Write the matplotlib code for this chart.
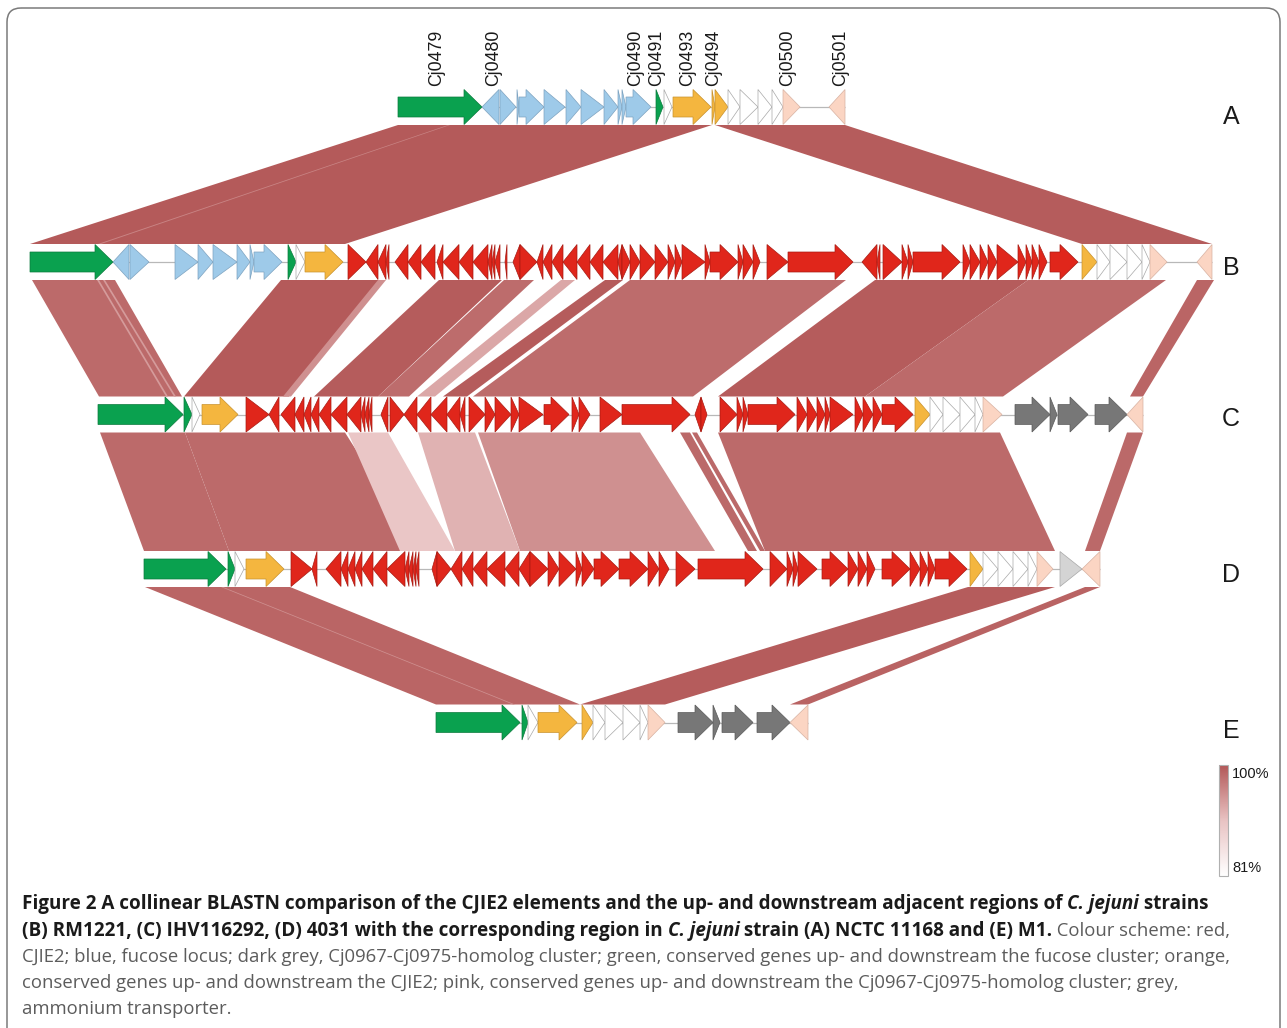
import matplotlib
matplotlib.use('Agg')
import matplotlib.pyplot as plt
from matplotlib.patches import Polygon, FancyBboxPatch, Rectangle
from matplotlib.colors import LinearSegmentedColormap
import numpy as np

# ---------------- data ----------------
# genes: (start, end, strand, category)  g=green b=blue y=orange r=red w=white p=pink k=dark grey l=light grey
track_A = [(398,482,1,'g'),(482,499,-1,'b'),(500,516,1,'b'),(517,519,1,'b'),(519,544,1,'b'),(544,565,1,'b'),
           (566,581,1,'b'),(581,604,1,'b'),(604,618,1,'b'),(618,622,1,'b'),(622,626,1,'b'),(626,651,1,'b'),
           (656,663,1,'g'),(664,672,1,'w'),(673,711,1,'y'),(712,715,1,'y'),(715,728,1,'y'),(728,740,1,'w'),
           (740,758,1,'w'),(758,772,1,'w'),(772,783,1,'w'),(783,800,1,'p'),(829,845,-1,'p')]
track_B = [(30,113,1,'g'),(113,129,-1,'b'),(130,149,1,'b'),(175,198,1,'b'),(198,213,1,'b'),(213,237,1,'b'),
           (237,250,1,'b'),(250,254,1,'b'),(254,282,1,'b'),(288,296,1,'g'),(296,305,1,'w'),(305,343,1,'y'),
           (348,366,1,'r'),(366,378,-1,'r'),(378,386,-1,'r'),(386,389,-1,'r'),(395,408,-1,'r'),(408,421,-1,'r'),
           (421,435,-1,'r'),(437,443,-1,'r'),(443,459,-1,'r'),(459,473,-1,'r'),(473,488,-1,'r'),(488,492,-1,'r'),
           (492,495,-1,'r'),(495,500,-1,'r'),(505,507,-1,'r'),(513,520,-1,'r'),(520,537,1,'r'),(537,543,-1,'r'),
           (543,552,-1,'r'),(552,563,-1,'r'),(563,577,-1,'r'),(577,590,-1,'r'),(590,603,-1,'r'),(603,618,-1,'r'),
           (618,622,-1,'r'),(622,630,1,'r'),(630,640,1,'r'),(640,655,1,'r'),(655,668,1,'r'),(668,675,1,'r'),
           (675,682,1,'r'),(682,705,1,'r'),(705,710,1,'r'),(710,738,1,'r'),(738,743,1,'r'),(743,753,1,'r'),
           (753,760,1,'r'),(767,788,1,'r'),(788,853,1,'r'),(862,877,-1,'r'),(877,880,-1,'r'),(883,902,1,'r'),
           (902,908,1,'r'),(908,913,1,'r'),(913,960,1,'r'),(963,970,1,'r'),(970,980,1,'r'),(980,988,1,'r'),
           (988,997,1,'r'),(997,1018,1,'r'),(1018,1026,1,'r'),(1026,1032,1,'r'),(1032,1039,1,'r'),(1039,1047,1,'r'),
           (1050,1078,1,'r'),(1082,1097,1,'y'),(1097,1110,1,'w'),(1110,1127,1,'w'),(1127,1142,1,'w'),
           (1142,1150,1,'w'),(1150,1167,1,'p'),(1197,1212,-1,'p')]
track_C = [(98,183,1,'g'),(184,192,1,'g'),(192,200,1,'w'),(202,238,1,'y'),(246,269,1,'r'),(269,279,-1,'r'),
           (281,295,-1,'r'),(295,304,-1,'r'),(304,311,-1,'r'),(311,319,-1,'r'),(319,331,-1,'r'),(331,347,-1,'r'),
           (347,361,-1,'r'),(361,365,-1,'r'),(365,369,-1,'r'),(369,372,-1,'r'),(381,388,-1,'r'),(390,404,1,'r'),
           (404,417,-1,'r'),(417,431,-1,'r'),(431,447,-1,'r'),(447,460,-1,'r'),(460,465,-1,'r'),(469,485,1,'r'),
           (485,495,1,'r'),(495,511,1,'r'),(511,519,1,'r'),(519,543,1,'r'),(544,569,1,'r'),(572,579,1,'r'),
           (579,590,1,'r'),(600,622,1,'r'),(622,690,1,'r'),(695,701,-1,'r'),(701,707,1,'r'),(720,737,1,'r'),
           (737,743,1,'r'),(743,748,1,'r'),(748,795,1,'r'),(797,807,1,'r'),(807,817,1,'r'),(817,825,1,'r'),
           (825,830,1,'r'),(830,853,1,'r'),(855,863,1,'r'),(863,873,1,'r'),(873,882,1,'r'),(882,913,1,'r'),
           (915,930,1,'y'),(930,943,1,'w'),(943,960,1,'w'),(960,975,1,'w'),(975,983,1,'w'),(983,1002,1,'p'),
           (1015,1050,1,'k'),(1050,1057,1,'k'),(1058,1088,1,'k'),(1095,1127,1,'k'),(1127,1143,-1,'p')]
track_D = [(144,226,1,'g'),(228,235,1,'g'),(235,244,1,'w'),(246,284,1,'y'),(291,312,1,'r'),(312,317,-1,'r'),
           (326,341,-1,'r'),(341,348,-1,'r'),(348,355,-1,'r'),(355,362,-1,'r'),(362,373,-1,'r'),(373,387,-1,'r'),
           (387,405,-1,'r'),(405,409,-1,'r'),(409,413,-1,'r'),(413,416,-1,'r'),(416,419,-1,'r'),(432,437,-1,'r'),
           (437,451,1,'r'),(451,462,-1,'r'),(462,473,-1,'r'),(473,487,-1,'r'),(487,505,-1,'r'),(505,519,-1,'r'),
           (519,530,-1,'r'),(530,548,1,'r'),(548,559,1,'r'),(559,576,1,'r'),(576,582,1,'r'),(582,594,1,'r'),
           (594,619,1,'r'),(619,648,1,'r'),(648,659,1,'r'),(659,669,1,'r'),(676,695,1,'r'),(698,763,1,'r'),
           (770,787,1,'r'),(787,793,1,'r'),(793,798,1,'r'),(798,817,1,'r'),(822,848,1,'r'),(848,858,1,'r'),
           (858,867,1,'r'),(867,875,1,'r'),(882,910,1,'r'),(910,920,1,'r'),(920,928,1,'r'),(928,935,1,'r'),
           (935,967,1,'r'),(970,983,1,'y'),(983,998,1,'w'),(998,1013,1,'w'),(1013,1028,1,'w'),(1028,1037,1,'w'),
           (1037,1053,1,'p'),(1060,1082,1,'l'),(1082,1100,-1,'p')]
track_E = [(436,520,1,'g'),(522,528,1,'g'),(528,538,1,'w'),(538,577,1,'y'),(582,593,1,'y'),(593,605,1,'w'),
           (605,623,1,'w'),(623,640,1,'w'),(640,648,1,'w'),(648,665,1,'p'),(678,713,1,'k'),(713,720,1,'k'),
           (722,753,1,'k'),(757,790,1,'k'),(790,808,-1,'p')]

track_names = ['A', 'B', 'C', 'D', 'E']
gene_labels = ['Cj0479','Cj0480','Cj0490','Cj0491','Cj0493','Cj0494','Cj0500','Cj0501']
gene_label_pos = [437, 494, 636, 657, 688, 714, 788, 841]

# BLASTN hits: (upper_start, upper_end, lower_start, lower_end, identity %)
hits_AB = [(398,712,30,345,99.8),(715,845,1082,1212,99.6),(448,450,98,101,96)]
hits_BC = [(32,115,99,182,98.3),(281,384,184,289,99.8),(378,386,283,291,95),(439,502,314,378,99.6),
           (504,534,378,409,98.2),(561,575,417,435,93),(605,623,443,467,99.6),(630,846,473,693,98.2),
           (875,1028,718,865,99.6),(1028,1166,865,1003,98.3),(1197,1214,1130,1143,98.8),
           (97,99,166,168,94),(103,105,174,176,94)]
hits_CD = [(100,185,144,229,98.3),(185,345,229,420,98.3),(348,388,400,455,90),(418,475,455,520,92),
           (478,640,520,715,95),(680,690,748,757,98.5),(692,697,760,765,98.5),(718,1000,765,1055,98.3),
           (1127,1143,1085,1100,98.5)]
hits_DE = [(145,290,436,580,98.8),(221,223,513,515,95),(968,1055,580,665,99.6),(1085,1100,790,808,99)]

caption_lines = [
    [("Figure 2 A collinear BLASTN comparison of the CJIE2 elements and the up- and downstream adjacent regions of ", 'bold', 'normal'),
     ("C. jejuni", 'bold', 'italic'), (" strains", 'bold', 'normal')],
    [("(B) RM1221, (C) IHV116292, (D) 4031 with the corresponding region in ", 'bold', 'normal'),
     ("C. jejuni", 'bold', 'italic'), (" strain (A) NCTC 11168 and (E) M1.", 'bold', 'normal'),
     (" Colour scheme: red,", 'normal', 'normal')],
    [("CJIE2; blue, fucose locus; dark grey, Cj0967-Cj0975-homolog cluster; green, conserved genes up- and downstream the fucose cluster; orange,", 'normal', 'normal')],
    [("conserved genes up- and downstream the CJIE2; pink, conserved genes up- and downstream the Cj0967-Cj0975-homolog cluster; grey,", 'normal', 'normal')],
    [("ammonium transporter.", 'normal', 'normal')],
]
cbar_labels = ['100%', '81%']
id_min, id_max = 81, 100

# ---------------- style ----------------
FILL = {'g':'#0aa14f','b':'#9ecae9','y':'#f4b63f','r':'#e0261b','w':'#ffffff','p':'#fbd5c3','k':'#777777','l':'#d4d4d4'}
EDGE = {'g':'#0a7a3c','b':'#7ea3c0','y':'#c8922e','r':'#a81a12','w':'#a8a8a8','p':'#d8b2a2','k':'#5a5a5a','l':'#a8a8a8'}
TRACK_Y = [107, 262, 414.5, 569, 722.5]
HH = 17.5     # half height of a gene
BH = 10.0     # half height of arrow body
HEAD = 18.0   # arrow head length
TRI_MAX = 24  # genes shorter than this are pure triangles

W, H = 1287, 1028
fig = plt.figure(figsize=(W/100, H/100), dpi=100)
ax = fig.add_axes([0, 0, 1, 1])
ax.set_xlim(0, W); ax.set_ylim(H, 0); ax.axis('off')

cmap = LinearSegmentedColormap.from_list('ident', ['#ffffff', '#e9c3c3', '#b35858'])
def ident_color(v):
    return cmap((v - id_min) / (id_max - id_min))

def gene_poly(s, e, strand, yc):
    L = e - s
    if strand < 0:
        s, e = e, s
        sign = -1
    else:
        sign = 1
    if L <= TRI_MAX:
        return [(s, yc-HH), (e, yc), (s, yc+HH)]
    hb = e - sign*HEAD
    return [(s, yc-BH), (hb, yc-BH), (hb, yc-HH), (e, yc), (hb, yc+HH), (hb, yc+BH), (s, yc+BH)]

tracks = [track_A, track_B, track_C, track_D, track_E]
for tr, yc in zip(tracks, TRACK_Y):
    xs = [g[0] for g in tr] + [g[1] for g in tr]
    ax.plot([min(xs), max(xs)], [yc, yc], color='#b8b8b8', lw=0.9, zorder=2, solid_capstyle='butt')
    for s, e, strand, cat in tr:
        ax.add_patch(Polygon(gene_poly(s, e, strand, yc), closed=True, fc=FILL[cat], ec=EDGE[cat],
                             lw=0.5, zorder=3, joinstyle='miter'))

all_hits = [hits_AB, hits_BC, hits_CD, hits_DE]
for i, hits in enumerate(all_hits):
    y1 = TRACK_Y[i] + HH + 0.5
    y2 = TRACK_Y[i+1] - HH - 0.5
    order = sorted(hits, key=lambda h: -(h[1]-h[0]))
    for t1, t2, b1, b2, idv in order:
        ax.add_patch(Polygon([(t1, y1), (t2, y1), (b2, y2), (b1, y2)], closed=True,
                             fc=ident_color(idv), ec='none', lw=0, zorder=1))

# gene labels of track A
for lab, x in zip(gene_labels, gene_label_pos):
    ax.text(x, 86, lab, rotation=90, ha='center', va='bottom', fontsize=12.8,
            family='Liberation Sans', color='#1a1a1a')

# track letters
for name, yc in zip(track_names, [117, 268, 419, 575, 731]):
    ax.text(1231, yc, name, ha='center', va='center', fontsize=18, family='Liberation Sans', color='#1a1a1a')

# colour bar
grad = np.linspace(id_max, id_min, 200)[:, None]
ax.imshow((grad - id_min) / (id_max - id_min), cmap=cmap, vmin=0, vmax=1, aspect='auto',
          extent=(1219, 1228, 876, 765), origin='upper', zorder=2, interpolation='bilinear')
ax.add_patch(Rectangle((1219, 765), 9, 111, fc='none', ec='#b0b0b0', lw=0.8, zorder=3))
ax.text(1232, 774, cbar_labels[0], ha='left', va='center', fontsize=10.5, family='Liberation Sans', color='#1a1a1a')
ax.text(1232, 868, cbar_labels[1], ha='left', va='center', fontsize=10.5, family='Liberation Sans', color='#1a1a1a')
ax.set_xlim(0, W); ax.set_ylim(H, 0)

# border
ax.add_patch(FancyBboxPatch((7, 8), 1273, 1060, boxstyle='round,pad=0,rounding_size=14',
                            fc='none', ec='#7a7a7a', lw=1.1, zorder=5, clip_on=True))

# caption
fig.canvas.draw()
renderer = fig.canvas.get_renderer()
COL = {'bold': '#1a1a1a', 'normal': '#5c5c5c'}
X0 = 22

def draw_line(line, yb, sizes, keep=True):
    x = X0
    arts = []
    for txt, weight, style in line:
        t = ax.text(x, yb, txt, fontsize=sizes[weight], fontweight=weight, fontstyle=style,
                    color=COL[weight], family='Open Sans', ha='left', va='baseline', zorder=6)
        arts.append(t)
        s1 = ax.text(0, 0, txt + '|', fontsize=sizes[weight], fontweight=weight, fontstyle=style, family='Open Sans')
        s2 = ax.text(0, 0, '|', fontsize=sizes[weight], fontweight=weight, fontstyle=style, family='Open Sans')
        x += s1.get_window_extent(renderer).width - s2.get_window_extent(renderer).width
        s1.remove(); s2.remove()
    right = arts[-1].get_window_extent(renderer).x1
    if not keep:
        for a in arts:
            a.remove()
    return right

sizes = {'bold': 12.0, 'normal': 12.0}
for _ in range(3):
    r1 = draw_line(caption_lines[0], 909, sizes, keep=False)
    sizes['bold'] *= (1213 - X0) / (r1 - X0)
    r3 = draw_line(caption_lines[2], 962, sizes, keep=False)
    sizes['normal'] *= (1229 - X0) / (r3 - X0)

baselines = [909, 936, 962, 988, 1014]
for line, yb in zip(caption_lines, baselines):
    draw_line(line, yb, sizes, keep=True)

fig.savefig('out.png', dpi=100)
